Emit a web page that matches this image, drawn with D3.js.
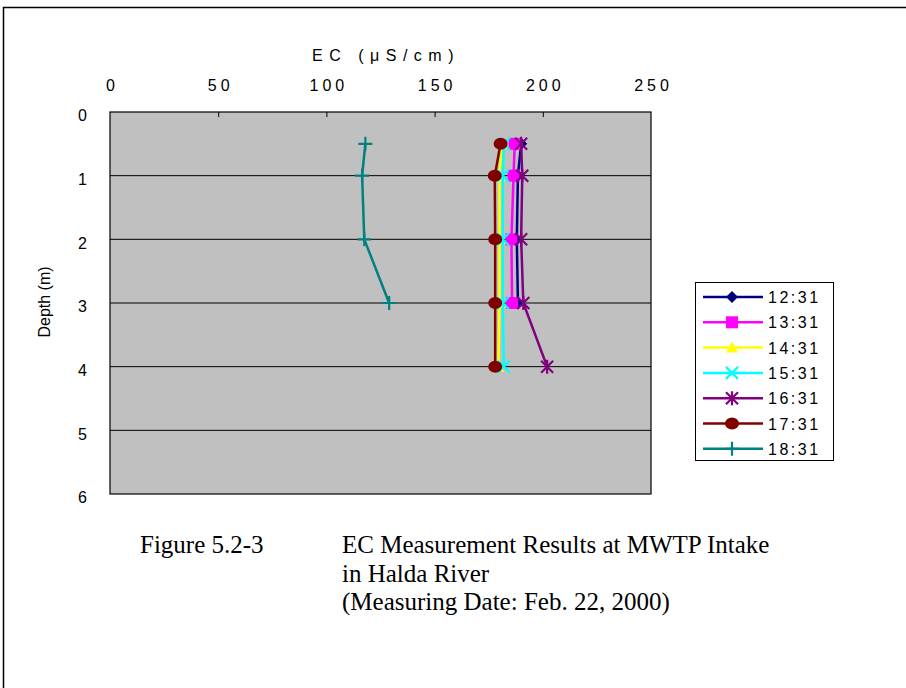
<!DOCTYPE html>
<html>
<head>
<meta charset="utf-8">
<script src="https://cdn.jsdelivr.net/npm/d3@7"></script>
<style>
  body { margin: 0; background: #fff; }
  svg { display: block; }
</style>
</head>
<body>
<svg id="chart" width="906" height="688"></svg>
<script>
// EC depth profiles, one series per measuring time
const depthsFull = [0.5, 1, 2, 3, 4];
const depthsShort = [0.5, 1, 2, 3];
const times = ["12:31", "13:31", "14:31", "15:31", "16:31", "17:31", "18:31"];
const ec1231 = [190, 188.5, 188, 188.5];
const ec1331 = [187, 186.5, 185.5, 185.8];
const ec1431 = [181, 180, 180, 180, 179.5];
const ec1531 = [182, 181.5, 181.5, 181.5, 182];
const ec1631 = [190, 190.5, 190, 191, 202];
const ec1731 = [180.5, 177.8, 178, 178, 178];
const ec1831 = [118, 116.5, 117.5, 129];
const xTicks = [0, 50, 100, 150, 200, 250];
const yTicks = [0, 1, 2, 3, 4, 5, 6];
const captionLines = ["EC Measurement Results at MWTP Intake", "in Halda River", "(Measuring Date: Feb. 22, 2000)"];

const seriesList = [
  { name: times[0], depths: depthsShort, values: ec1231, color: "#000080", marker: "diamond" },
  { name: times[1], depths: depthsShort, values: ec1331, color: "#FF00FF", marker: "square" },
  { name: times[2], depths: depthsFull, values: ec1431, color: "#FFFF00", marker: "triangle" },
  { name: times[3], depths: depthsFull, values: ec1531, color: "#00FFFF", marker: "x" },
  { name: times[4], depths: depthsFull, values: ec1631, color: "#800080", marker: "star" },
  { name: times[5], depths: depthsFull, values: ec1731, color: "#800000", marker: "circle" },
  { name: times[6], depths: depthsShort, values: ec1831, color: "#008080", marker: "plus" }
];

const svg = d3.select("#chart");
const font = "Arial, 'Liberation Sans', sans-serif";

// Page frame
svg.append("path").attr("d", "M3.5,700 V7.5 H910")
  .attr("fill", "none").attr("stroke", "#000").attr("stroke-width", 1.5);

const plot = { left: 110, top: 112, right: 651, bottom: 494 };
const x = d3.scaleLinear().domain([0, 250]).range([plot.left, plot.right]);
const y = d3.scaleLinear().domain([0, 6]).range([plot.top, plot.bottom]);

// Plot background
svg.append("rect")
  .attr("x", plot.left).attr("y", plot.top)
  .attr("width", plot.right - plot.left).attr("height", plot.bottom - plot.top)
  .attr("fill", "#C0C0C0");

// Horizontal gridlines
svg.append("g").selectAll("line").data(yTicks.slice(1, -1)).join("line")
  .attr("x1", plot.left).attr("x2", plot.right)
  .attr("y1", d => y(d)).attr("y2", d => y(d))
  .attr("stroke", "#000").attr("stroke-width", 1);

// Top axis (EC)
const tickLs = 4;
const xAxis = d3.axisTop(x).tickValues(xTicks).tickSize(-5).tickPadding(21).tickFormat(d3.format("d"));
const gx = svg.append("g").attr("transform", `translate(0,${plot.top})`).call(xAxis);
gx.select(".domain").remove();
gx.selectAll(".tick line").attr("stroke", "#000").filter(d => d === 0 || d === 250).remove();
gx.selectAll("text").attr("font-family", font).attr("font-size", 16).attr("fill", "#000")
  .attr("letter-spacing", tickLs + "px").attr("dx", tickLs / 2).attr("dy", 0);

// Left axis (depth)
const yAxis = d3.axisLeft(y).tickValues(yTicks).tickSize(0).tickPadding(23).tickFormat(d3.format("d"));
const gy = svg.append("g").attr("transform", `translate(${plot.left},0)`).call(yAxis);
gy.select(".domain").remove();
gy.selectAll("text").attr("font-family", font).attr("font-size", 16).attr("fill", "#000")
  .attr("dy", "0.55em");

// Plot border
svg.append("rect")
  .attr("x", plot.left).attr("y", plot.top)
  .attr("width", plot.right - plot.left).attr("height", plot.bottom - plot.top)
  .attr("fill", "none").attr("stroke", "#000").attr("stroke-width", 1.2);

// Axis titles
svg.append("text").attr("x", 386).attr("y", 61).attr("text-anchor", "middle")
  .attr("font-family", font).attr("font-size", 16).attr("letter-spacing", "6.5px")
  .text("EC (μS/cm)");
svg.append("text").attr("transform", "translate(50,302) rotate(-90)").attr("text-anchor", "middle")
  .attr("font-family", font).attr("font-size", 16)
  .text("Depth (m)");

// Marker drawing
function drawMarker(g, type, color) {
  if (type === "diamond") {
    g.append("path").attr("d", "M0,-6 L6,0 L0,6 L-6,0 Z").attr("fill", color);
  } else if (type === "square") {
    g.append("rect").attr("x", -6).attr("y", -6).attr("width", 12).attr("height", 12).attr("fill", color);
  } else if (type === "triangle") {
    g.append("path").attr("d", "M0,-6 L6,5 L-6,5 Z").attr("fill", color);
  } else if (type === "x") {
    g.append("path").attr("d", "M-6,-6 L6,6 M-6,6 L6,-6").attr("stroke", color).attr("stroke-width", 2.2);
  } else if (type === "star") {
    g.append("path").attr("d", "M-6,-6 L6,6 M-6,6 L6,-6 M0,-7 L0,7").attr("stroke", color).attr("stroke-width", 2.2);
  } else if (type === "circle") {
    g.append("ellipse").attr("rx", 7).attr("ry", 6).attr("fill", color);
  } else if (type === "plus") {
    g.append("path").attr("d", "M-7,0 L7,0 M0,-7 L0,7").attr("stroke", color).attr("stroke-width", 2.2);
  }
}

// Series
const line = d3.line().x(d => x(d[1])).y(d => y(d[0]));
seriesList.forEach(s => {
  const pts = s.depths.map((dp, i) => [dp, s.values[i]]);
  const g = svg.append("g");
  g.append("path").datum(pts).attr("d", line)
    .attr("fill", "none").attr("stroke", s.color).attr("stroke-width", 2.5);
  pts.forEach(p => {
    const m = g.append("g").attr("transform", `translate(${x(p[1])},${y(p[0])})`);
    drawMarker(m, s.marker, s.color);
  });
});

// Legend
const legend = svg.append("g");
legend.append("rect").attr("x", 695.5).attr("y", 282.5).attr("width", 138).attr("height", 178)
  .attr("fill", "#fff").attr("stroke", "#000").attr("stroke-width", 1);
seriesList.forEach((s, i) => {
  const ly = 297 + i * 25.3;
  const g = legend.append("g");
  g.append("line").attr("x1", 703).attr("x2", 763).attr("y1", ly).attr("y2", ly)
    .attr("stroke", s.color).attr("stroke-width", 2.5);
  const m = g.append("g").attr("transform", `translate(732,${ly})`);
  drawMarker(m, s.marker, s.color);
  g.append("text").attr("x", 768).attr("y", ly + 6)
    .attr("font-family", font).attr("font-size", 16).attr("letter-spacing", "2.5px")
    .text(s.name);
});

// Caption
const serif = "'Liberation Serif', 'Times New Roman', serif";
svg.append("text").attr("x", 140).attr("y", 553).attr("font-family", serif).attr("font-size", 25)
  .text("Figure 5.2-3");
svg.append("g").selectAll("text").data(captionLines).join("text")
  .attr("x", 342).attr("y", (d, i) => 553 + i * 28.5)
  .attr("font-family", serif).attr("font-size", 25)
  .text(d => d);
</script>
</body>
</html>
